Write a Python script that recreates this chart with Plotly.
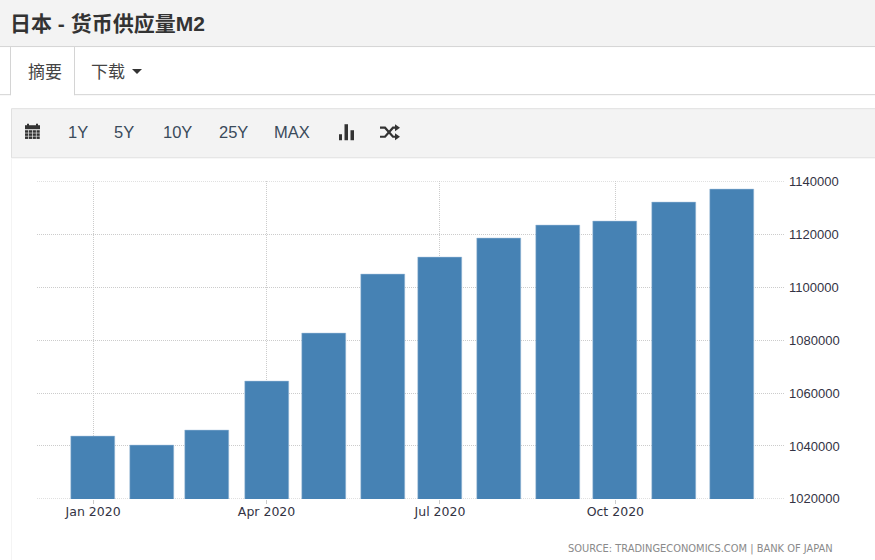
import plotly.graph_objects as go

W, H = 875, 560
months = ["2020-01-01","2020-02-01","2020-03-01","2020-04-01","2020-05-01","2020-06-01",
          "2020-07-01","2020-08-01","2020-09-01","2020-10-01","2020-11-01","2020-12-01"]
m2 = [1043500,1040100,1046100,1064300,1082500,1104800,1111400,1118400,1123300,1124700,1132200,1137000]
y_ticks = [1020000,1040000,1060000,1080000,1100000,1120000,1140000]
x_ticks = ["2020-01-01","2020-04-01","2020-07-01","2020-10-01"]
x_labels = ["Jan 2020","Apr 2020","Jul 2020","Oct 2020"]
toolbar = ["1Y","5Y","10Y","25Y","MAX"]
toolbar_x = [78,124,177,233,292]

px = lambda x: x / W
py = lambda y: 1 - (y - 7) / 544
DAY = 86400000
GRID = "#cccccc"
DOT = "1px,1px"

def rect(x0, y0, x1, y1, fill=None, line=None, lw=1):
    return dict(type="rect", xref="paper", yref="paper", x0=px(x0), x1=px(x1), y0=py(y0), y1=py(y1),
                fillcolor=fill or "rgba(0,0,0,0)", line=dict(color=line or "rgba(0,0,0,0)", width=lw if line else 0), layer="below")

def hline(x0, x1, y, c="#d4d4d4"):
    return dict(type="line", xref="paper", yref="paper", x0=px(x0), x1=px(x1), y0=py(y), y1=py(y),
                line=dict(color=c, width=1), layer="below")

def vline(x, y0, y1, c="#d4d4d4"):
    return dict(type="line", xref="paper", yref="paper", x0=px(x), x1=px(x), y0=py(y0), y1=py(y1),
                line=dict(color=c, width=1), layer="below")

def poly(points, fill="#333333", close=True, line=None, lw=0):
    d = "M" + " L".join(f"{px(a):.5f},{py(b):.5f}" for a, b in points) + (" Z" if close else "")
    return dict(type="path", xref="paper", yref="paper", path=d, fillcolor=fill if close else "rgba(0,0,0,0)",
                line=dict(color=line or "rgba(0,0,0,0)", width=lw), layer="above")

shapes = [
    rect(0, -20, 875, 46, "#f3f3f3"), hline(0, 875, 46.5),
    hline(0, 11, 94.5), hline(74, 875, 94.5), vline(10.5, 47, 95), vline(74.5, 47, 95),
    rect(11.5, 108.5, 876, 157.5, "#f3f3f3", "#e0e0e0"),
    vline(11.5, 158, 570, "#f4f4f4"),
]
for v in (y_ticks[0], y_ticks[-1]):
    shapes.append(dict(type="line", xref="paper", yref="y", x0=px(37), x1=px(785), y0=v, y1=v,
                       line=dict(color=GRID, width=1, dash=DOT), layer="below"))
shapes.append(poly([(132,69),(142,69),(137,74)]))
ci = "#333333"
shapes += [poly([(25,125),(40,125),(40,129),(25,129)], ci), poly([(27,123.5),(29,123.5),(29,126),(27,126)], ci),
           poly([(36,123.5),(38,123.5),(38,126),(36,126)], ci)]
for r in range(3):
    for c in range(4):
        xx = 25 + c * 3.85
        yy = 130 + r * 3.1
        shapes.append(poly([(xx,yy),(xx+3.2,yy),(xx+3.2,yy+2.5),(xx,yy+2.5)], ci))
shapes += [poly([(339,134),(342,134),(342,140),(339,140)], ci), poly([(344.5,124),(348,124),(348,140),(344.5,140)], ci),
           poly([(350.5,130),(354,130),(354,140),(350.5,140)], ci)]
shapes += [poly([(380,127.5),(385,127.5),(393,136.5),(396,136.5)], close=False, line=ci, lw=2.2),
           poly([(380,136.5),(385,136.5),(393,127.5),(396,127.5)], close=False, line=ci, lw=2.2),
           poly([(395,124),(400,127.5),(395,131)], ci), poly([(395,133),(400,136.5),(395,140)], ci)]

ann = []
def text(x, y, s, size, color="#333333", anchor="left", fam="Liberation Sans, Noto Sans CJK SC", bold=False):
    ann.append(dict(xref="paper", yref="paper", x=px(x), y=py(y), text=f"<b>{s}</b>" if bold else s,
                    showarrow=False, xanchor=anchor, yanchor="middle", borderpad=0, borderwidth=0,
                    font=dict(size=size, color=color, family=fam)))
text(10, 23, "日本 - 货币供应量M2", 21, "#333333", bold=True)
text(45, 70, "摘要", 17, "#444444", "center", "Noto Sans CJK SC, Liberation Sans")
text(91, 70, "下载", 17, "#444444", "left", "Noto Sans CJK SC, Liberation Sans")
for s, xx in zip(toolbar, toolbar_x):
    text(xx, 132, s, 16.5, "#3a4a5a", "center")
text(568, 548, "SOURCE: TRADINGECONOMICS.COM | BANK OF JAPAN", 9.9, "#8a8a8a", "left", "DejaVu Sans")

fig = go.Figure(go.Bar(x=months, y=m2, width=23.1 * DAY, marker=dict(color="#4682b4", line=dict(color="#a9c4dc", width=0.5))))
fig.update_layout(
    width=W, height=H, margin=dict(l=0, r=0, t=0, b=0, pad=0), paper_bgcolor="white", plot_bgcolor="white",
    showlegend=False, shapes=shapes, annotations=ann, bargap=0,
    xaxis=dict(domain=[px(37), px(785)], type="date", range=["2019-12-02 14:00", "2020-12-29"],
               tickvals=x_ticks, ticktext=x_labels, ticks="outside", ticklen=4, tickcolor="#cccccc", ticklabelstandoff=-3,
               tickfont=dict(size=12.5, color="#333344", family="DejaVu Sans"),
               showgrid=True, gridcolor=GRID, griddash=DOT, gridwidth=1, showline=False, zeroline=False),
    yaxis=dict(domain=[py(498), py(181)], range=[1020000, 1140000], side="right", tickvals=y_ticks,
               ticktext=[str(v) for v in y_ticks], tickfont=dict(size=13, color="#333344", family="Liberation Sans"),
               ticks="", ticklabelstandoff=3,
               showgrid=True, gridcolor=GRID, griddash=DOT, gridwidth=1, zeroline=False, showline=False),
)
fig.write_html("out.html", config=dict(displayModeBar=False),
               post_script="""document.body.style.margin='0';
document.documentElement.style.overflow='hidden';""")
